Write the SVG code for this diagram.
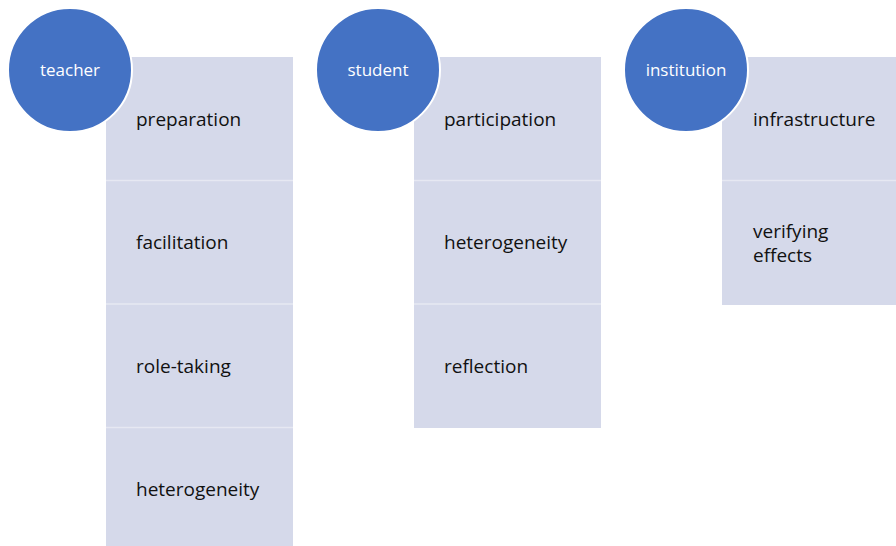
<svg xmlns="http://www.w3.org/2000/svg" width="896" height="546" viewBox="0 0 896 546">
<style>
.cell{fill:#D5D9EA}
.sep{stroke:#E6E8F2;stroke-width:1.5}
.circ{fill:#4472C4;stroke:#FFFFFF;stroke-width:2}
.ct{font-family:"Open Sans",Lato,sans-serif;font-size:17px;fill:#FFFFFF;text-anchor:middle}
.lt{font-family:"Open Sans",Lato,sans-serif;font-size:19px;fill:#111111;font-variant-ligatures:none}
</style>
<rect width="896" height="546" fill="#FFFFFF"/>
<g id="teacher-list">
<rect class="cell" x="106" y="57" width="187" height="489"/>
<line class="sep" x1="106" y1="180.5" x2="293" y2="180.5"/>
<line class="sep" x1="106" y1="304" x2="293" y2="304"/>
<line class="sep" x1="106" y1="427.5" x2="293" y2="427.5"/>
<text class="lt" x="136" y="126">preparation</text>
<text class="lt" x="136" y="249">facilitation</text>
<text class="lt" x="136" y="373">role-taking</text>
<text class="lt" x="136" y="496">heterogeneity</text>
</g>
<g id="student-list">
<rect class="cell" x="414" y="57" width="187" height="371"/>
<line class="sep" x1="414" y1="180.5" x2="601" y2="180.5"/>
<line class="sep" x1="414" y1="304" x2="601" y2="304"/>
<text class="lt" x="444" y="126">participation</text>
<text class="lt" x="444" y="249">heterogeneity</text>
<text class="lt" x="444" y="373">reflection</text>
</g>
<g id="institution-list">
<rect class="cell" x="722" y="57" width="174" height="248"/>
<line class="sep" x1="722" y1="180.5" x2="896" y2="180.5"/>
<text class="lt" x="753" y="126">infrastructure</text>
<text class="lt" x="753" y="238">verifying</text>
<text class="lt" x="753" y="262">effects</text>
</g>
<g id="teacher">
<circle class="circ" cx="70" cy="70" r="62"/>
<text class="ct" x="70" y="76">teacher</text>
</g>
<g id="student">
<circle class="circ" cx="378" cy="70" r="62"/>
<text class="ct" x="378" y="76">student</text>
</g>
<g id="institution">
<circle class="circ" cx="686" cy="70" r="62"/>
<text class="ct" x="686" y="76">institution</text>
</g>
<g id="connectors"></g>
</svg>
